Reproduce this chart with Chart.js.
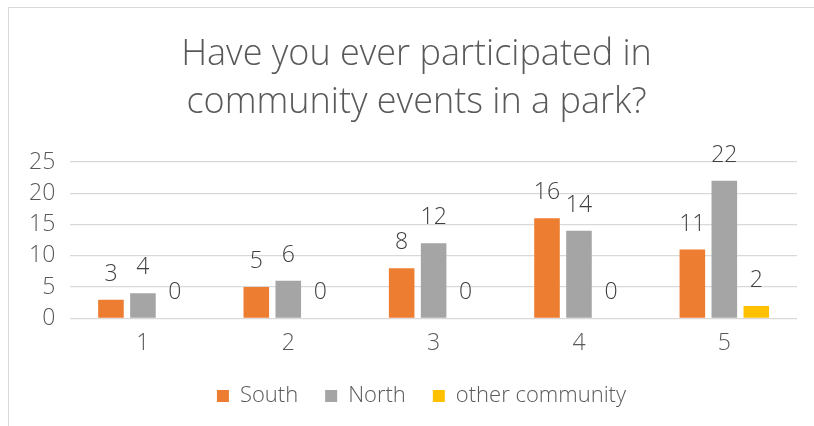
<!DOCTYPE html>
<html>
<head>
<meta charset="utf-8">
<script src="https://cdn.jsdelivr.net/npm/chart.js@4.4.0/dist/chart.umd.min.js"></script>
<style>
  html, body { margin: 0; padding: 0; background: #fff; }
  #wrap { position: relative; width: 814px; height: 426px; }
  #frame { position: absolute; left: 8px; top: 7px; right: -2px; bottom: -2px; border: 1px solid #d9d9d9; }
  canvas { position: absolute; left: 0; top: 0; }
</style>
</head>
<body>
<div id="wrap">
  <div id="frame"></div>
  <canvas id="myChart" width="814" height="426"></canvas>
</div>
<script>
const categories = ["1", "2", "3", "4", "5"];
const south = [3, 5, 8, 16, 11];
const north = [4, 6, 12, 14, 22];
const otherCommunity = [0, 0, 0, 0, 2];
const yTicks = [0, 5, 10, 15, 20, 25];

const FONT = "'Open Sans', 'Liberation Sans', sans-serif";

// draws the value above each bar
const barLabels = {
	id: "barLabels",
	afterDatasetsDraw(chart) {
		const ctx = chart.ctx;
		ctx.save();
		ctx.font = "300 23px " + FONT;
		ctx.fillStyle = "#404040";
		ctx.textAlign = "center";
		ctx.textBaseline = "alphabetic";
		chart.data.datasets.forEach((ds, i) => {
			chart.getDatasetMeta(i).data.forEach((bar, j) => {
				ctx.fillText(String(ds.data[j]), bar.x, bar.y - 19);
			});
		});
		ctx.restore();
	},
};

// legend: wide item spacing but less vertical room; title and legend a bit right of centre
const LEGEND_TRIM = 10;
const layoutTweak = {
	id: "layoutTweak",
	beforeLayout(chart) {
		const lg = chart.legend;
		if (lg && !lg._patched) {
			const fit = lg.fit;
			lg.fit = function () {
				fit.call(this);
				this.height -= LEGEND_TRIM;
			};
			lg._patched = true;
		}
	},
	afterLayout(chart) {
		chart.legend.left += 16;
		chart.legend.right += 16;
		chart.legend.top -= LEGEND_TRIM;
		chart.legend.bottom -= LEGEND_TRIM;
		chart.titleBlock.left += 11;
		chart.titleBlock.right += 11;
	},
};

const ctx = document.getElementById("myChart").getContext("2d");
new Chart(ctx, {
	type: "bar",
	data: {
		labels: categories,
		datasets: [
			{ label: "South", data: south, backgroundColor: "#ED7D31" },
			{ label: "North", data: north, backgroundColor: "#A5A5A5" },
			{ label: "other community", data: otherCommunity, backgroundColor: "#FFC000" },
		],
	},
	options: {
		responsive: false,
		animation: false,
		layout: { padding: { left: 14, right: 17, top: 0, bottom: 9 } },
		datasets: { bar: { categoryPercentage: 0.66, barPercentage: 0.8 } },
		plugins: {
			title: {
				display: true,
				text: ["Have you ever participated in", "community events in a park?"],
				color: "#595959",
				font: { family: FONT, size: 36, weight: "300", lineHeight: 1.333 },
				padding: { top: 31, bottom: 35 },
			},
			legend: {
				position: "bottom",
				labels: {
					color: "#595959",
					font: { family: FONT, size: 22, weight: "300" },
					boxWidth: 12,
					boxHeight: 12,
					padding: 27,
				},
			},
			tooltip: { enabled: false },
		},
		scales: {
			x: {
				grid: { display: false, drawTicks: false },
				border: { display: false },
				ticks: { color: "#595959", font: { family: FONT, size: 23, weight: "300" }, padding: 11 },
			},
			y: {
				min: 0,
				max: 25,
				afterBuildTicks: (axis) => { axis.ticks = yTicks.map((v) => ({ value: v })); },
				grid: { color: "#D9D9D9", lineWidth: 1.3, drawTicks: false },
				border: { display: false },
				ticks: { color: "#595959", font: { family: FONT, size: 23, weight: "300" }, padding: 15, autoSkip: false },
			},
		},
	},
	plugins: [barLabels, layoutTweak],
});
</script>
</body>
</html>
